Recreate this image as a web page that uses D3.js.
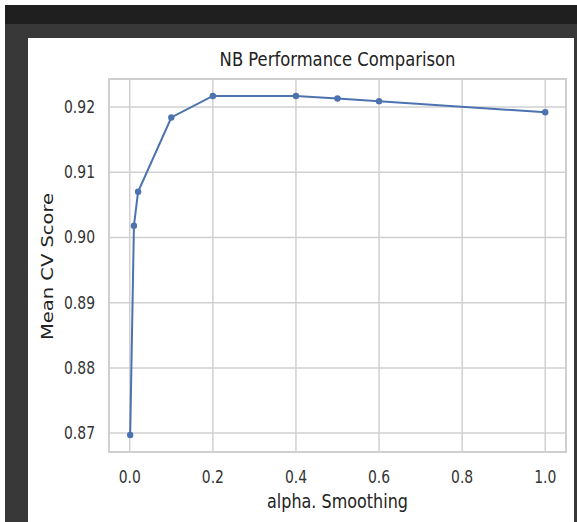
<!DOCTYPE html>
<html>
<head>
<meta charset="utf-8">
<script src="https://cdn.jsdelivr.net/npm/d3@7"></script>
<style>
  html, body { margin: 0; padding: 0; background: #fff; }
  svg { display: block; }
</style>
</head>
<body>
<svg id="chart" width="577" height="522"></svg>
<script>
// data
const alphas = [0.001, 0.01, 0.02, 0.1, 0.2, 0.4, 0.5, 0.6, 1.0];
const scores = [0.8697, 0.9018, 0.9070, 0.9184, 0.9217, 0.9217, 0.9213, 0.9209, 0.9192];
const xTicks = [0, 0.2, 0.4, 0.6, 0.8, 1.0];
const yTicks = [0.87, 0.88, 0.89, 0.90, 0.91, 0.92];

const svg = d3.select('#chart');
const font = 'DejaVu Sans, sans-serif';
const sx = 0.82; // text looks squeezed sideways in the original

// dark window frame around the white figure
svg.append('rect').attr('x', 5).attr('y', 5).attr('width', 572).attr('height', 517).attr('fill', '#383838');
svg.append('rect').attr('x', 5).attr('y', 5).attr('width', 572).attr('height', 19).attr('fill', '#1f1f1f');
svg.append('rect').attr('x', 28).attr('y', 38).attr('width', 546).attr('height', 484).attr('fill', '#fff');

// axes box
const box = { left: 109, right: 566, top: 79, bottom: 452 };
const x = d3.scaleLinear().domain([-0.05, 1.05]).range([box.left, box.right]);
const yExt = d3.extent(scores);
const pad = (yExt[1] - yExt[0]) * 0.05;
const y = d3.scaleLinear().domain([yExt[0] - pad, yExt[1] + pad]).range([box.bottom, box.top]);

// gridlines
const grid = svg.append('g');
grid.selectAll('line.gx').data(xTicks).join('line')
  .attr('x1', d => x(d)).attr('x2', d => x(d))
  .attr('y1', box.top).attr('y2', box.bottom)
  .attr('stroke', '#d0d0d0').attr('stroke-width', 1.5);
grid.selectAll('line.gy').data(yTicks).join('line')
  .attr('y1', d => y(d)).attr('y2', d => y(d))
  .attr('x1', box.left).attr('x2', box.right)
  .attr('stroke', '#d0d0d0').attr('stroke-width', 1.5);

svg.append('rect')
  .attr('x', box.left).attr('y', box.top)
  .attr('width', box.right - box.left).attr('height', box.bottom - box.top)
  .attr('fill', 'none').attr('stroke', '#cfcfcf').attr('stroke-width', 2);

// tick labels
svg.append('g').selectAll('text').data(yTicks).join('text')
  .attr('transform', d => `translate(95,${y(d) + 6}) scale(${sx},1)`)
  .attr('text-anchor', 'end')
  .attr('font-family', font).attr('font-size', 17).attr('fill', '#333')
  .text(d => d3.format('.2f')(d));

svg.append('g').selectAll('text').data(xTicks).join('text')
  .attr('transform', d => `translate(${x(d)},483) scale(${sx},1)`)
  .attr('text-anchor', 'middle')
  .attr('font-family', font).attr('font-size', 17).attr('fill', '#333')
  .text(d => d3.format('.1f')(d));

// labels and title
svg.append('text')
  .attr('transform', `translate(${(box.left + box.right) / 2},66) scale(${sx},1)`)
  .attr('text-anchor', 'middle')
  .attr('font-family', font).attr('font-size', 20).attr('fill', '#222')
  .text('NB Performance Comparison');

svg.append('text')
  .attr('transform', `translate(${(box.left + box.right) / 2},508) scale(${sx},1)`)
  .attr('text-anchor', 'middle')
  .attr('font-family', font).attr('font-size', 19.5).attr('fill', '#222')
  .text('alpha. Smoothing');

svg.append('text')
  .attr('transform', `translate(53,${(box.top + box.bottom) / 2 + 1}) scale(${sx},1) rotate(-90)`)
  .attr('text-anchor', 'middle')
  .attr('font-family', font).attr('font-size', 19.5).attr('fill', '#222')
  .text('Mean CV Score');

// the series
const pts = alphas.map((a, i) => ({ a, s: scores[i] }));
const line = d3.line().x(d => x(d.a)).y(d => y(d.s));

svg.append('path')
  .datum(pts)
  .attr('d', line)
  .attr('fill', 'none')
  .attr('stroke', '#4c72b0')
  .attr('stroke-width', 2);

svg.append('g').selectAll('circle').data(pts).join('circle')
  .attr('cx', d => x(d.a)).attr('cy', d => y(d.s))
  .attr('r', 3.2)
  .attr('fill', '#4c72b0');
</script>
</body>
</html>
